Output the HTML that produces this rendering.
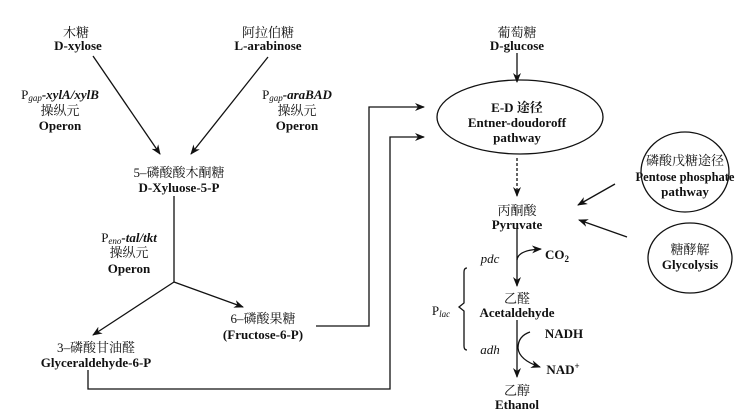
<!DOCTYPE html>
<html><head><meta charset="utf-8"><style>
html,body{margin:0;padding:0;background:#fff}
svg{display:block}
svg text{font-family:"Liberation Serif","Times New Roman","DejaVu Serif","Noto Serif CJK SC",serif;font-size:13px;fill:#111;text-anchor:middle}
.b{font-weight:bold}
.i{font-style:italic}
</style></head><body>
<svg width="749" height="418" viewBox="0 0 749 418" xmlns="http://www.w3.org/2000/svg" font-family="Liberation Serif, Noto Serif CJK SC, serif">
<defs><marker id="a" markerWidth="10" markerHeight="8" refX="9" refY="4" orient="auto" markerUnits="userSpaceOnUse"><path d="M0,0 L10,4 L0,8 L3,4 Z" fill="#111"/></marker></defs>
<g stroke="#111" stroke-width="1.3" fill="none">
<line x1="93" y1="56" x2="160" y2="154" marker-end="url(#a)"/>
<line x1="268" y1="57" x2="191" y2="154" marker-end="url(#a)"/>
<line x1="174" y1="196" x2="174" y2="282"/>
<line x1="174" y1="282" x2="93" y2="335" marker-end="url(#a)"/>
<line x1="174" y1="282" x2="243" y2="307" marker-end="url(#a)"/>
<polyline points="316,326 369,326 369,107 424,107" marker-end="url(#a)"/>
<polyline points="88,370 88,389 390,389 390,137 424,137" marker-end="url(#a)"/>
<ellipse cx="520" cy="117" rx="83" ry="37"/>
<ellipse cx="685" cy="172" rx="44" ry="40"/>
<ellipse cx="690" cy="258" rx="42" ry="35"/>
<line x1="517" y1="53" x2="517" y2="82" marker-end="url(#a)"/>
<line x1="517" y1="158" x2="517" y2="196" stroke-dasharray="3,2" marker-end="url(#a)"/>
<line x1="615" y1="184" x2="578" y2="205" marker-end="url(#a)"/>
<line x1="627" y1="237" x2="579" y2="220" marker-end="url(#a)"/>
<line x1="517" y1="228" x2="517" y2="286" marker-end="url(#a)"/>
<path d="M517,260 Q518,250 541,249" marker-end="url(#a)"/>
<path d="M467,268 Q464,268 464,272 L464,303 L459,307 L464,311 L464,346 Q464,350 467,350"/>
<line x1="517" y1="320" x2="517" y2="377" marker-end="url(#a)"/>
<path d="M530,332 Q518,336 518,348 Q519,360 540,367" marker-end="url(#a)"/>
</g>
<text x="76" y="37">木糖</text><text class="b" x="78" y="50">D-xylose</text>
<text x="268" y="37">阿拉伯糖</text><text class="b" x="268" y="50">L-arabinose</text>
<text x="60" y="99">P<tspan font-size="9" dy="2" class="i">gap</tspan><tspan dy="-2" class="b i">-xylA/xylB</tspan></text>
<text x="60" y="115">操纵元</text><text class="b" x="60" y="130">Operon</text>
<text x="297" y="99">P<tspan font-size="9" dy="2" class="i">gap</tspan><tspan dy="-2" class="b i">-araBAD</tspan></text>
<text x="297" y="115">操纵元</text><text class="b" x="297" y="130">Operon</text>
<text x="179" y="177">5–磷酸酸木酮糖</text><text class="b" x="179" y="192">D-Xyluose-5-P</text>
<text x="129" y="242">P<tspan font-size="9" dy="2" class="i">eno</tspan><tspan dy="-2" class="b i">-tal/tkt</tspan></text>
<text x="129" y="257">操纵元</text><text class="b" x="129" y="273">Operon</text>
<text x="263" y="323">6–磷酸果糖</text><text class="b" x="263" y="339">(Fructose-6-P)</text>
<text x="96" y="352">3–磷酸甘油醛</text><text class="b" x="96" y="367">Glyceraldehyde-6-P</text>
<text x="517" y="37">葡萄糖</text><text class="b" x="517" y="50">D-glucose</text>
<text class="b" x="517" y="112">E-D 途径</text><text class="b" x="517" y="127">Entner-doudoroff</text><text class="b" x="517" y="142">pathway</text>
<text x="685" y="165">磷酸戊糖途径</text><text class="b" x="685" y="181" style="font-size:12.5px">Pentose phosphate</text><text class="b" x="685" y="196">pathway</text>
<text x="690" y="254">糖酵解</text><text class="b" x="690" y="269">Glycolysis</text>
<text x="517" y="215">丙酮酸</text><text class="b" x="517" y="229">Pyruvate</text>
<text class="i" x="490" y="263">pdc</text>
<text class="b" x="557" y="259">CO<tspan font-size="9" dy="3">2</tspan></text>
<text x="441" y="315">P<tspan font-size="9" dy="2" class="i">lac</tspan></text>
<text x="517" y="303">乙醛</text><text class="b" x="517" y="317">Acetaldehyde</text>
<text class="i" x="490" y="354">adh</text>
<text class="b" x="564" y="338">NADH</text>
<text class="b" x="563" y="374">NAD<tspan font-size="9" dy="-5">+</tspan></text>
<text x="517" y="395">乙醇</text><text class="b" x="517" y="409">Ethanol</text>
</svg>
</body></html>
